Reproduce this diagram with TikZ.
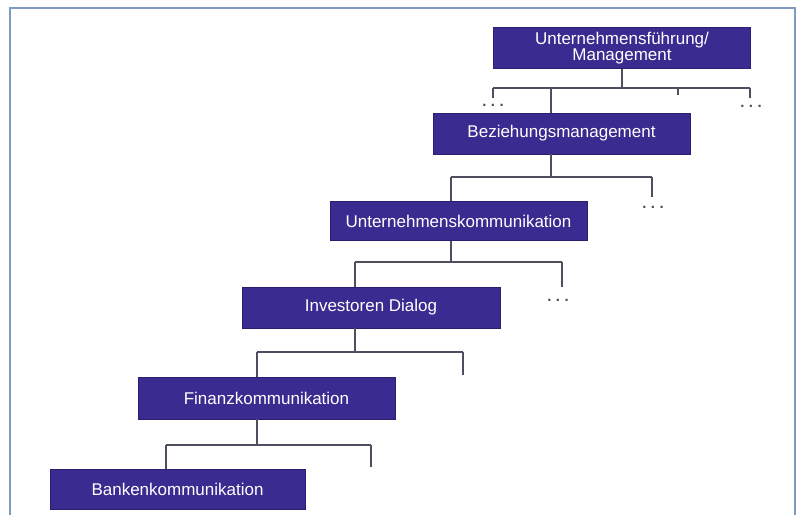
\documentclass[tikz,border=0pt]{standalone}
\usepackage{fontspec}
\setmainfont{Liberation Sans}
\definecolor{boxfill}{HTML}{3A2B90}
\definecolor{boxline}{HTML}{2A2070}
\definecolor{conncol}{HTML}{4E4E5E}
\definecolor{framecol}{HTML}{7F9BC0}
\begin{document}
\begin{tikzpicture}[x=1pt,y=-1pt,
  orgbox/.style={rectangle, fill=boxfill, draw=boxline, line width=0.8pt,
    text=white, minimum width=257pt, minimum height=40pt, inner sep=0pt,
    font=\fontsize{17}{16}\selectfont, align=center},
  conn/.style={draw=conncol, line width=1.6pt},
  dotsnode/.style={text=conncol, font=\fontsize{15}{15}\selectfont\bfseries, inner sep=0pt}
]
\useasboundingbox (0,0) rectangle (797,515);
\fill[white] (0,0) rectangle (797,515);
% frame
\draw[framecol, line width=1.6pt] (10,515) -- (10,8) -- (795,8) -- (795,515);

% boxes
\node[orgbox, minimum height=41pt] (b1) at (622,48) {Unternehmensführung/\\Management};
\node[orgbox, minimum height=41pt] (b2) at (561.5,133.5) {Beziehungsmanagement};
\node[orgbox, minimum height=39pt] (b3) at (458.5,221) {Unternehmenskommunikation};
\node[orgbox, minimum width=258pt, minimum height=41pt] (b4) at (371,307.5) {Investoren Dialog};
\node[orgbox, minimum height=42pt] (b5) at (266.5,398) {Finanzkommunikation};
\node[orgbox, minimum width=255pt, minimum height=40pt] (b6) at (177.5,489) {Bankenkommunikation};

% level 1
\coordinate (h1L) at (493,88);
\coordinate (h1R) at (750,88);
\coordinate (t1a) at (551,88);
\coordinate (t1b) at (678,88);
\draw[conn] (b1.south) -- (b1.south |- h1L);
\draw[conn] (h1L) -- (h1R);
\draw[conn] (h1L) -- ++(0,10);
\draw[conn] (h1R) -- ++(0,10);
\draw[conn] (t1b) -- ++(0,7);
\draw[conn] (t1a) -- (t1a |- b2.north);
\node[dotsnode] (d1) at (493,105) {.\hspace{4.5pt}.\hspace{4.5pt}.};
\node[dotsnode] (d2) at (751,106) {.\hspace{4.5pt}.\hspace{4.5pt}.};

% level 2
\coordinate (h2L) at (451,177);
\coordinate (h2R) at (652,177);
\draw[conn] (t1a |- b2.south) -- (t1a |- h2L);
\draw[conn] (h2L) -- (h2R);
\draw[conn] (h2L) -- (h2L |- b3.north);
\draw[conn] (h2R) -- ++(0,20);
\node[dotsnode] (d3) at (653,207) {.\hspace{4.5pt}.\hspace{4.5pt}.};

% level 3
\coordinate (h3L) at (355,262);
\coordinate (h3R) at (562,262);
\draw[conn] (h2L |- b3.south) -- (h2L |- h3L);
\draw[conn] (h3L) -- (h3R);
\draw[conn] (h3L) -- (h3L |- b4.north);
\draw[conn] (h3R) -- ++(0,25);
\node[dotsnode] (d4) at (558,300) {.\hspace{4.5pt}.\hspace{4.5pt}.};

% level 4
\coordinate (h4L) at (257,352);
\coordinate (h4R) at (463,352);
\draw[conn] (h3L |- b4.south) -- (h3L |- h4L);
\draw[conn] (h4L) -- (h4R);
\draw[conn] (h4L) -- (h4L |- b5.north);
\draw[conn] (h4R) -- ++(0,23);

% level 5
\coordinate (h5L) at (166,445);
\coordinate (h5R) at (371,445);
\draw[conn] (h4L |- b5.south) -- (h4L |- h5L);
\draw[conn] (h5L) -- (h5R);
\draw[conn] (h5L) -- (h5L |- b6.north);
\draw[conn] (h5R) -- ++(0,22);
\end{tikzpicture}
\end{document}
